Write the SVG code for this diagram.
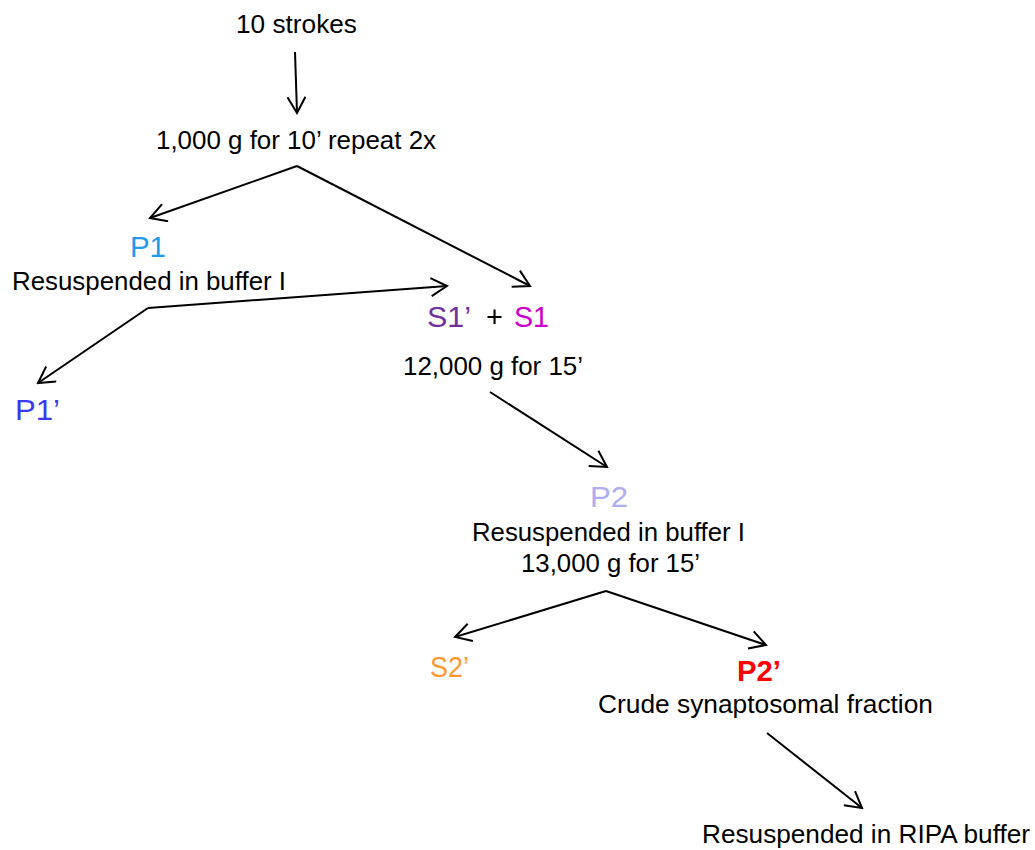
<svg xmlns="http://www.w3.org/2000/svg" width="1035" height="850" viewBox="0 0 1035 850">
<defs>
<style>
.t{font-family:"Liberation Sans",Arial,sans-serif;font-size:25px;fill:#000}
.b{font-family:"Liberation Sans",Arial,sans-serif;font-size:29px}
.c{fill:none;stroke:#000;stroke-width:2}
</style>
<marker id="ah" viewBox="0 0 20 20" refX="18" refY="10" markerWidth="20" markerHeight="20" markerUnits="userSpaceOnUse" orient="auto">
<path d="M2,1 L18,10 L2,19" fill="none" stroke="#000" stroke-width="2"/>
</marker>
</defs>
<rect width="1035" height="850" fill="#fff"/>
<g id="connectors">
<line class="c" x1="295" y1="52" x2="297" y2="113" marker-end="url(#ah)"/>
<line class="c" x1="297" y1="166" x2="150" y2="218" marker-end="url(#ah)"/>
<line class="c" x1="297" y1="166" x2="530" y2="286" marker-end="url(#ah)"/>
<line class="c" x1="148" y1="308" x2="447" y2="286" marker-end="url(#ah)"/>
<line class="c" x1="148" y1="308" x2="38" y2="383" marker-end="url(#ah)"/>
<line class="c" x1="490" y1="392" x2="607" y2="467" marker-end="url(#ah)"/>
<line class="c" x1="606" y1="591" x2="455" y2="637" marker-end="url(#ah)"/>
<line class="c" x1="606" y1="591" x2="766" y2="645" marker-end="url(#ah)"/>
<line class="c" x1="767" y1="733" x2="862" y2="808" marker-end="url(#ah)"/>
</g>
<g id="n-strokes"><text class="t" x="236" y="33" textLength="121" lengthAdjust="spacingAndGlyphs">10 strokes</text></g>
<g id="n-1000g"><text class="t" x="156" y="149" textLength="280" lengthAdjust="spacingAndGlyphs">1,000 g for 10’ repeat 2x</text></g>
<g id="n-p1">
<text class="b" x="130" y="257" fill="#1E9BF0" textLength="36" lengthAdjust="spacingAndGlyphs">P1</text>
<text class="t" x="12" y="290" textLength="274" lengthAdjust="spacingAndGlyphs">Resuspended in buffer I</text>
</g>
<g id="n-s1">
<text class="b" x="427" y="327" fill="#7030A0" textLength="44" lengthAdjust="spacingAndGlyphs">S1’</text>
<text class="b" x="486" y="327">+</text>
<text class="b" x="514" y="327" fill="#CC00CC" textLength="35" lengthAdjust="spacingAndGlyphs">S1</text>
<text class="t" x="403" y="375" textLength="180" lengthAdjust="spacingAndGlyphs">12,000 g for 15’</text>
</g>
<g id="n-p1p"><text class="b" x="15" y="420" fill="#3A3AF5" textLength="45" lengthAdjust="spacingAndGlyphs">P1’</text></g>
<g id="n-p2">
<text class="b" x="590" y="507" fill="#AEAEEE" textLength="38" lengthAdjust="spacingAndGlyphs">P2</text>
<text class="t" x="472" y="541" textLength="273" lengthAdjust="spacingAndGlyphs">Resuspended in buffer I</text>
<text class="t" x="521" y="572" textLength="179" lengthAdjust="spacingAndGlyphs">13,000 g for 15’</text>
</g>
<g id="n-s2p"><text class="b" x="430" y="677" fill="#FF9933" textLength="39" lengthAdjust="spacingAndGlyphs">S2’</text></g>
<g id="n-p2p">
<text class="b" x="737" y="681" fill="#FF0000" font-weight="bold" textLength="44" lengthAdjust="spacingAndGlyphs">P2’</text>
<text class="t" x="598" y="713" textLength="335" lengthAdjust="spacingAndGlyphs">Crude synaptosomal fraction</text>
</g>
<g id="n-ripa"><text class="t" x="702" y="843" textLength="328" lengthAdjust="spacingAndGlyphs">Resuspended in RIPA buffer</text></g>
</svg>
